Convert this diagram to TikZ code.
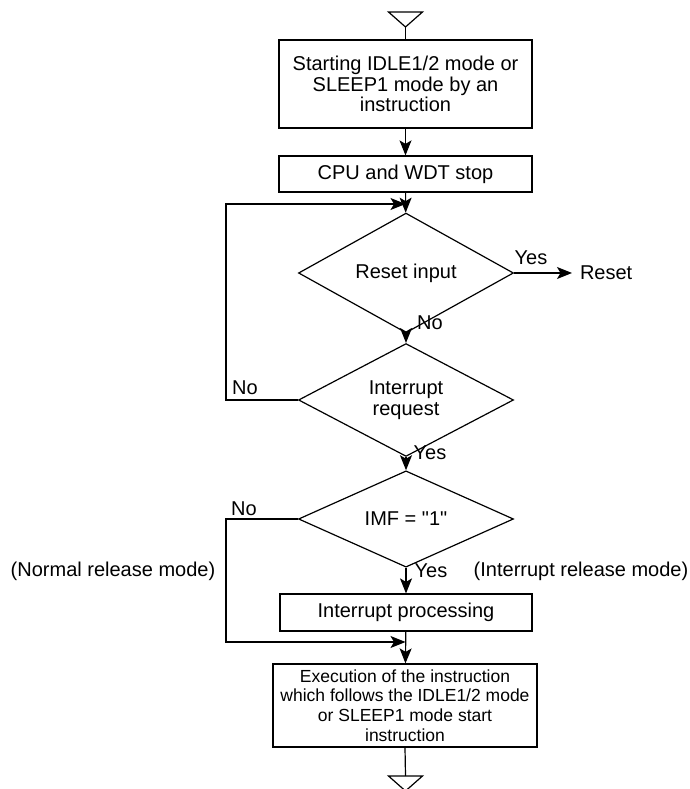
\documentclass[tikz,border=0pt]{standalone}
\usepackage{fontspec}
\setmainfont{Liberation Sans}
\newfontfamily\plainquote{Liberation Sans}
\usepackage{tikz}
\usetikzlibrary{arrows.meta,positioning,shapes.geometric,calc}

\begin{document}
\begin{tikzpicture}[
    x=1pt, y=1pt,
    box/.style={rectangle, draw, line width=1.2pt, minimum width=#1, inner sep=0pt, align=center, font=\fontsize{20}{20.5}\selectfont},
    decision/.style={diamond, draw, line width=1.2pt, minimum width=215pt, minimum height=82pt, inner sep=0pt, align=center, font=\fontsize{20}{20.5}\selectfont},
    lbl/.style={inner sep=0pt, font=\fontsize{20}{20.5}\selectfont},
    arrow/.style={-{Stealth[length=15pt,width=12pt,inset=3.5pt]}, line width=1.2pt},
    line/.style={line width=1.2pt}
]
\useasboundingbox (0,0) rectangle (690,789);

% Start and stop
\node[box=253pt, minimum height=88pt] (idle) at (405.5,705) {Starting IDLE1/2 mode or\\SLEEP1 mode by an\\instruction};
\node[box=253pt, minimum height=36pt] (stop) at (405.5,615) {CPU and WDT stop};

% Decisions
\node[decision] (reset) at (406,516) {Reset input};
\node[decision] (intreq) at (406,389) {Interrupt\\request};
\node[decision] (imf) at (406,270) {\plainquote IMF = "1"};

% Processing
\node[box=252pt, minimum height=37pt] (intproc) at (406,176.5) {Interrupt processing};
\node[box=264pt, minimum height=83pt, font=\fontsize{17.5}{19.7}\selectfont] (exec) at (405,83.5) {Execution of the instruction\\which follows the IDLE1/2 mode\\or SLEEP1 mode start\\instruction};

% Reset exit
\node[lbl, anchor=west, outer sep=8pt] (rst) at (572,516) {Reset};

% Helper points
\coordinate (startpt) at (405.5,762);
\coordinate (endpt) at (405.5,13);
\coordinate (loopin) at (405.5,585);
\coordinate (merge) at (405.5,147);
\coordinate (loopx) at (226,0);

% Terminal triangles
\draw[line] (startpt) -- ++(-17,15) -- ++(34,0) -- cycle;
\draw[line] (endpt) -- ++(17,0) -- ++(-17,-15) -- ++(-17,15) -- cycle;

% Connectors
\draw[line] (startpt) -- (idle.north);
\draw[arrow] (idle) -- (stop);
\draw[arrow] (stop) -- (reset);
\draw[arrow] (reset.east) -- (rst.west);
\draw[arrow] (reset) -- (intreq);
\draw[arrow] (intreq.west) -| (loopx |- loopin) -- (loopin);
\draw[arrow] (intreq) -- (imf);
\draw[arrow] (imf) -- (intproc);
\draw[arrow] (imf.west) -| (loopx |- merge) -- (merge);
\draw[arrow] (intproc) -- (exec);
\draw[line] (exec.south) -- (endpt);

% Labels
\node[lbl] (yes1) at (531,531) {Yes};
\node[lbl] (no1) at (430,466) {No};
\node[lbl] (no2) at (245,401) {No};
\node[lbl] (yes2) at (430,336) {Yes};
\node[lbl] (no3) at (244,280) {No};
\node[lbl] (yes3) at (431,218) {Yes};
\node[lbl] (normal) at (113,218) {(Normal release mode)};
\node[lbl] (intrel) at (581,218) {(Interrupt release mode)};

\end{tikzpicture}
\end{document}
